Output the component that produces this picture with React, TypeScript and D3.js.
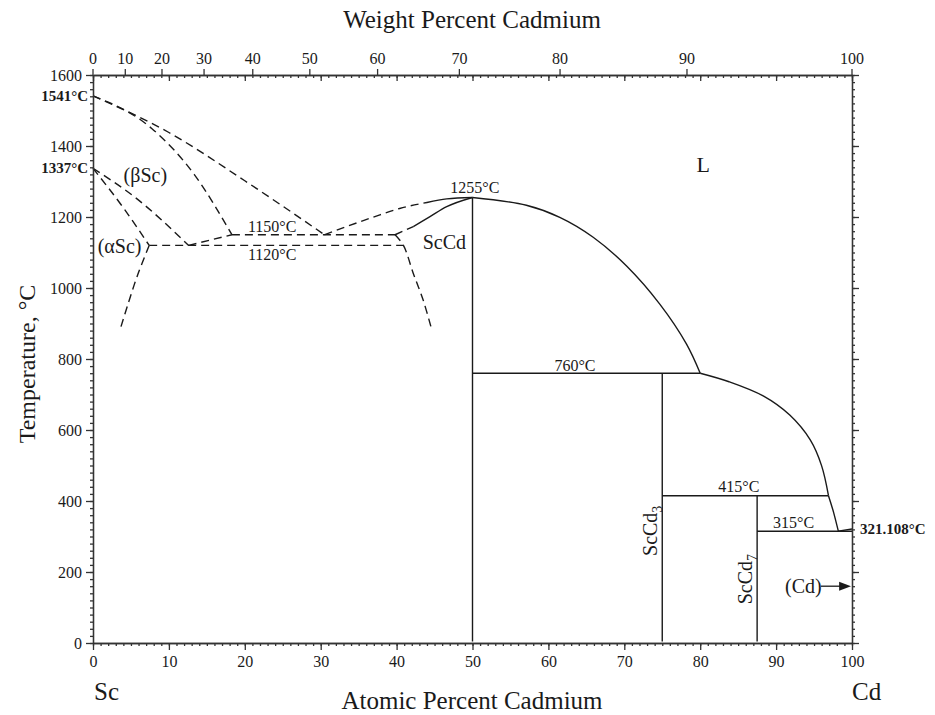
import * as React from "react";
import * as d3 from "d3";

type Pt = [number, number];

// atomic % Cd vs temperature (°C)
const betaLiquidus: Pt[] = [[0, 1541], [10, 1438], [20, 1302], [30.5, 1150]];
const betaSolidus: Pt[] = [[0, 1541], [7.7, 1450], [13.4, 1318], [18.3, 1150]];
const alphaBetaUpper: Pt[] = [[0, 1337], [5.5, 1256], [12.6, 1120]];
const alphaBetaLower: Pt[] = [[0, 1337], [4.2, 1220], [7.4, 1120]];
const alphaSolvus: Pt[] = [[7.4, 1120], [5.8, 1032], [4.5, 947], [3.6, 885]];
const betaEutectoidLeg: Pt[] = [[12.6, 1120], [18.3, 1150]];
const iso1150: Pt[] = [[18.3, 1150], [39.8, 1150]];
const iso1120: Pt[] = [[7.4, 1120], [40.9, 1120]];
const scCdSolvus: Pt[] = [[39.8, 1150], [40.9, 1120], [42.2, 1041], [43.5, 966], [44.6, 885]];
const scCdLiqDashed: Pt[] = [[30.5, 1150], [37.8, 1206], [40.4, 1224], [44.0, 1241]];
const scCdLiqSolid: Pt[] = [[44.0, 1241], [46.6, 1251], [50, 1255]];
const scCdSolDashed: Pt[] = [[39.8, 1150], [42.2, 1173]];
const scCdSolSolid: Pt[] = [[42.2, 1173], [44.4, 1201], [46.6, 1229], [50, 1255]];
const liquidus1: Pt[] = [[50, 1255], [57.1, 1233], [61.5, 1199], [65.9, 1143], [70.3, 1062], [74.7, 954], [78.2, 842], [80, 760]];
const liquidus2: Pt[] = [[80, 760], [83.8, 736], [88.3, 696], [91.8, 642], [94.5, 572], [96.0, 499], [96.9, 415]];
const liquidus3: Pt[] = [[96.9, 415], [97.6, 366], [98.2, 315]];
const cdSolvus: Pt[] = [[98.2, 315], [100, 321.108]];

const compounds = [
  { x: 50, top: 1255 },
  { x: 75, top: 760 },
  { x: 87.5, top: 415 },
];
const isotherms = [
  { t: 760, from: 50, to: 80 },
  { t: 415, from: 75, to: 96.9 },
  { t: 315, from: 87.5, to: 100 },
];

const tempTicks = d3.range(0, 1601, 200);
const atTicks = d3.range(0, 101, 10);
const wtTicks = d3.range(0, 101, 10);

const labels = [
  { x: 23.6, t: 1158, text: "1150°C", size: 16 },
  { x: 23.6, t: 1079, text: "1120°C", size: 16 },
  { x: 50.3, t: 1267, text: "1255°C", size: 16 },
  { x: 63.5, t: 767, text: "760°C", size: 16 },
  { x: 85.1, t: 424, text: "415°C", size: 16 },
  { x: 92.3, t: 323, text: "315°C", size: 16 },
  { x: 6.9, t: 1299, text: "(βSc)", size: 20 },
  { x: 3.5, t: 1099, text: "(αSc)", size: 20 },
  { x: 46.3, t: 1110, text: "ScCd", size: 20 },
  { x: 80.4, t: 1328, text: "L", size: 22 },
  { x: 93.6, t: 140, text: "(Cd)", size: 20 },
];

const M_SC = 44.956;
const M_CD = 112.41;
const wtToAt = (w: number) => {
  const a = w / M_CD;
  const b = (100 - w) / M_SC;
  return (a / (a + b)) * 100;
};

function drawChart(svgRef: React.RefObject<SVGSVGElement | null>) {
  const left = 93, right = 852, top = 75, bottom = 643;
  const x = d3.scaleLinear().domain([0, 100]).range([left, right]);
  const y = d3.scaleLinear().domain([0, 1600]).range([bottom, top]);
  const font = "'Liberation Serif', 'Times New Roman', serif";
  const ink = "#1a1a1a";

  const svg = d3.select(svgRef.current);
  svg.selectAll("*").remove();
  const g = svg.append("g").attr("font-family", font);

  const smooth = d3.line<Pt>().x(d => x(d[0])).y(d => y(d[1])).curve(d3.curveMonotoneX);
  const bent = d3.line<Pt>().x(d => x(d[0])).y(d => y(d[1])).curve(d3.curveCatmullRom.alpha(0.5));

  const drawPath = (pts: Pt[], dashed: boolean, gen = smooth) =>
    g.append("path")
      .attr("d", gen(pts))
      .attr("fill", "none")
      .attr("stroke", ink)
      .attr("stroke-width", 1.4)
      .attr("stroke-dasharray", dashed ? "8,5" : null);

  [betaLiquidus, betaSolidus, alphaBetaUpper, alphaBetaLower, betaEutectoidLeg,
    iso1150, iso1120, scCdLiqDashed, scCdSolDashed].forEach(p => drawPath(p, true));
  [alphaSolvus, scCdSolvus].forEach(p => drawPath(p, true, bent));
  [scCdLiqSolid, scCdSolSolid, liquidus3, cdSolvus].forEach(p => drawPath(p, false));
  [liquidus1, liquidus2].forEach(p => drawPath(p, false, bent));

  compounds.forEach(c => {
    g.append("line")
      .attr("x1", x(c.x)).attr("x2", x(c.x))
      .attr("y1", y(c.top)).attr("y2", y(4))
      .attr("stroke", ink).attr("stroke-width", 1.4);
  });
  isotherms.forEach(d => {
    g.append("line")
      .attr("x1", x(d.from)).attr("x2", x(d.to))
      .attr("y1", y(d.t)).attr("y2", y(d.t))
      .attr("stroke", ink).attr("stroke-width", 1.4);
  });

  // axes
  const axisStyle = (sel: d3.Selection<SVGGElement, unknown, null, undefined>) => {
    sel.selectAll("path, line").attr("stroke", "#333").attr("stroke-width", 1.3);
    sel.selectAll("text").attr("fill", ink).attr("font-size", 16).attr("font-family", font);
    sel.attr("font-family", font);
  };
  const blank = () => "";
  const fmt = d3.format("d");

  g.append("g").attr("transform", `translate(0,${bottom})`)
    .call(d3.axisBottom(x).tickValues(d3.range(0, 101, 1)).tickSize(3).tickFormat(blank).tickSizeOuter(0))
    .call(axisStyle);
  g.append("g").attr("transform", `translate(0,${bottom})`)
    .call(d3.axisBottom(x).tickValues(atTicks).tickSize(7).tickPadding(6).tickFormat(fmt).tickSizeOuter(0))
    .call(axisStyle);

  g.append("g").attr("transform", `translate(${left},0)`)
    .call(d3.axisLeft(y).tickValues(d3.range(0, 1601, 20)).tickSize(3).tickFormat(blank).tickSizeOuter(0))
    .call(axisStyle);
  g.append("g").attr("transform", `translate(${left},0)`)
    .call(d3.axisLeft(y).tickValues(tempTicks).tickSize(7).tickPadding(4).tickFormat(fmt).tickSizeOuter(0))
    .call(axisStyle);

  g.append("g").attr("transform", `translate(${right},0)`)
    .call(d3.axisRight(y).tickValues(d3.range(0, 1601, 20)).tickSize(3).tickFormat(blank).tickSizeOuter(0))
    .call(axisStyle);
  g.append("g").attr("transform", `translate(${right},0)`)
    .call(d3.axisRight(y).tickValues(tempTicks).tickSize(7).tickFormat(blank).tickSizeOuter(0))
    .call(axisStyle);

  // top: atomic ticks inside, weight ticks outside
  g.append("g").attr("transform", `translate(0,${top})`)
    .call(d3.axisBottom(x).tickValues(d3.range(0, 101, 1)).tickSize(3).tickFormat(blank).tickSizeOuter(0))
    .call(axisStyle);
  g.append("g").attr("transform", `translate(0,${top})`)
    .call(d3.axisBottom(x).tickValues(atTicks).tickSize(6).tickFormat(blank).tickSizeOuter(0))
    .call(axisStyle);
  const wtG = g.append("g");
  wtG.selectAll("line").data(wtTicks).enter().append("line")
    .attr("x1", d => x(wtToAt(d))).attr("x2", d => x(wtToAt(d)))
    .attr("y1", top).attr("y2", top - 6)
    .attr("stroke", "#333").attr("stroke-width", 1.3);
  wtG.selectAll("text").data(wtTicks).enter().append("text")
    .attr("x", d => x(wtToAt(d))).attr("y", top - 11)
    .attr("text-anchor", "middle").attr("font-size", 16).attr("fill", ink)
    .text(d => d);

  // labels on the diagram
  g.selectAll(".lbl").data(labels).enter().append("text")
    .classed("lbl", true)
    .attr("x", d => x(d.x)).attr("y", d => y(d.t))
    .attr("text-anchor", "middle")
    .attr("font-size", d => d.size)
    .attr("fill", ink)
    .text(d => d.text);

  const boldTemps = [
    { t: 1541, text: "1541°C", x: left - 5, anchor: "end" },
    { t: 1337, text: "1337°C", x: left - 5, anchor: "end" },
    { t: 321.108, text: "321.108°C", x: right + 8, anchor: "start" },
  ];
  g.selectAll(".bold").data(boldTemps).enter().append("text")
    .classed("bold", true)
    .attr("x", d => d.x).attr("y", d => y(d.t) + 5)
    .attr("text-anchor", d => d.anchor)
    .attr("font-size", 15).attr("font-weight", "bold").attr("fill", ink)
    .text(d => d.text);

  // vertical compound labels
  const vert = [
    { x: 74.27, t: 316, sub: "3" },
    { x: 86.8, t: 180, sub: "7" },
  ];
  vert.forEach(v => {
    const t = g.append("text")
      .attr("transform", `translate(${x(v.x)},${y(v.t)}) rotate(-90)`)
      .attr("text-anchor", "middle").attr("font-size", 20).attr("fill", ink);
    t.append("tspan").text("ScCd");
    t.append("tspan").attr("font-size", 14).attr("dy", 5).text(v.sub);
  });

  // (Cd) arrow
  const ay = y(160);
  g.append("line").attr("x1", x(95.9)).attr("x2", x(98.6)).attr("y1", ay).attr("y2", ay)
    .attr("stroke", ink).attr("stroke-width", 1.3);
  g.append("path")
    .attr("d", `M${x(100) - 1},${ay} L${x(98.3)},${ay - 4.5} L${x(98.3)},${ay + 4.5} Z`)
    .attr("fill", ink);

  // titles
  g.append("text").attr("x", 472).attr("y", 28).attr("text-anchor", "middle")
    .attr("font-size", 25).attr("fill", ink).text("Weight Percent Cadmium");
  g.append("text").attr("x", 472).attr("y", 709).attr("text-anchor", "middle")
    .attr("font-size", 25).attr("fill", ink).text("Atomic Percent Cadmium");
  g.append("text").attr("x", left + 1).attr("y", 700)
    .attr("font-size", 25).attr("fill", ink).text("Sc");
  g.append("text").attr("x", right).attr("y", 700)
    .attr("font-size", 25).attr("fill", ink).text("Cd");
  g.append("text").attr("transform", `translate(35,364) rotate(-90)`).attr("text-anchor", "middle")
    .attr("font-size", 24).attr("fill", ink).text("Temperature, °C");
}

const App = () => {
  const svgRef = React.useRef<SVGSVGElement>(null);

  React.useEffect(() => {
    drawChart(svgRef);
  }, [svgRef]);

  return (
    <svg
      ref={svgRef}
      width={935}
      height={715}
      style={{ position: "absolute", left: 0, top: 0, background: "#fff" }}
    />
  );
};

export default App;
